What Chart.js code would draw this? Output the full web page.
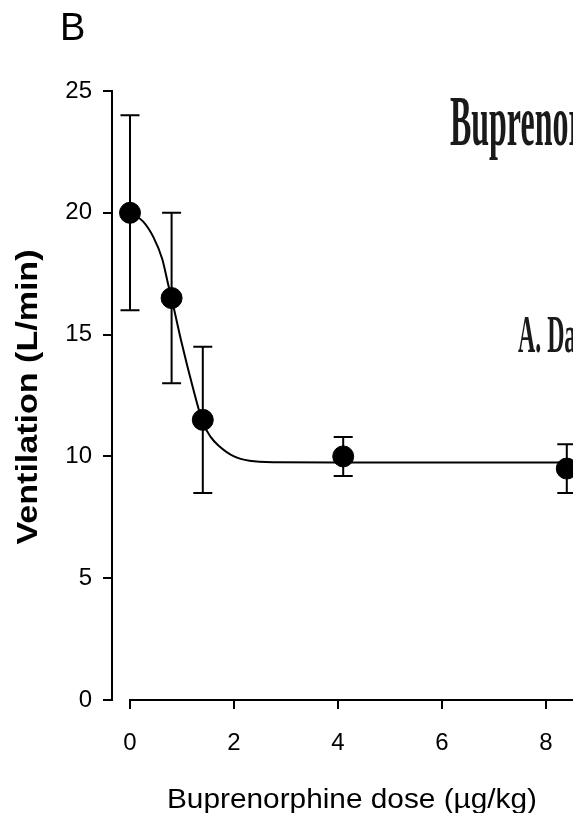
<!DOCTYPE html>
<html>
<head>
<meta charset="utf-8">
<script src="https://cdn.jsdelivr.net/npm/chart.js@4"></script>
<style>
  html, body { margin: 0; padding: 0; background: #fff; }
  canvas { display: block; }
</style>
</head>
<body>
<canvas id="ventilation-chart" width="573" height="813"></canvas>
<script>
// measured doses (ug/kg) and ventilation (L/min) with error bar ends
const doses = [0, 0.8, 1.4, 4.1, 8.4];
const ventilation = [20, 16.5, 11.5, 10, 9.5];
const errLow = [16, 13, 8.5, 9.2, 8.5];
const errHigh = [24, 20, 14.5, 10.8, 10.5];

// fitted curve
const fitDoses = [0, 0.25, 0.45, 0.62, 0.73, 0.82, 1.0, 1.2, 1.4, 1.55, 1.7, 2.0, 2.3, 2.8, 4, 8.6];
const fitVentilation = [20, 19.65, 19.0, 18.1, 17.1, 16.3, 14.6, 12.9, 11.4, 10.8, 10.45, 10.0, 9.82, 9.76, 9.75, 9.75];

const xTicks = [0, 2, 4, 6, 8];
const yTicks = [0, 5, 10, 15, 20, 25];

const SANS = "'Liberation Sans', Arial, sans-serif";
const SERIF = "'Liberation Serif', 'Times New Roman', serif";

// INFO error bars go under the points
const errorBars = {
  id: 'errorBars',
  beforeDatasetsDraw(chart) {
    const { ctx, scales: { x, y } } = chart;
    ctx.save();
    ctx.strokeStyle = '#000';
    ctx.lineWidth = 2;
    doses.forEach((d, i) => {
      const px = x.getPixelForValue(d);
      const top = y.getPixelForValue(errHigh[i]);
      const bot = y.getPixelForValue(errLow[i]);
      ctx.beginPath();
      ctx.moveTo(px, top); ctx.lineTo(px, bot);
      ctx.moveTo(px - 9.5, top); ctx.lineTo(px + 9.5, top);
      ctx.moveTo(px - 9.5, bot); ctx.lineTo(px + 9.5, bot);
      ctx.stroke();
    });
    ctx.restore();
  }
};

function fitText(ctx, text, x, y, width) {
  const w = ctx.measureText(text).width;
  ctx.save();
  ctx.translate(x, y);
  ctx.scale(width / w, 1);
  ctx.fillText(text, 0, 0);
  ctx.restore();
}

const decorations = {
  id: 'decorations',
  afterDraw(chart) {
    const { ctx, chartArea, scales: { x } } = chart;
    ctx.save();
    // detached x axis line, starting at dose 0
    ctx.strokeStyle = '#000';
    ctx.lineWidth = 2;
    ctx.beginPath();
    ctx.moveTo(x.getPixelForValue(0) - 1, chartArea.bottom);
    ctx.lineTo(chartArea.right, chartArea.bottom);
    ctx.stroke();

    ctx.fillStyle = '#000';
    ctx.textBaseline = 'alphabetic';

    ctx.textAlign = 'left';
    ctx.font = `38px ${SANS}`;
    ctx.fillText('B', 60, 40);

    ctx.textAlign = 'center';
    ctx.font = `28px ${SANS}`;
    fitText(ctx, 'Buprenorphine dose (\u00b5g/kg)', 352, 808, 370);

    ctx.save();
    ctx.translate(37, 397);
    ctx.rotate(-Math.PI / 2);
    ctx.font = `bold 29px ${SANS}`;
    fitText(ctx, 'Ventilation (L/min)', 0, 0, 295);
    ctx.restore();

    // leftover title text from the neighbouring panel
    ctx.textAlign = 'left';
    ctx.fillStyle = '#1a1a1a';
    ctx.font = `bold 71px ${SERIF}`;
    ctx.save();
    ctx.translate(450, 145);
    ctx.scale(0.45, 1);
    ctx.fillText('Buprenorphine', 0, 0);
    ctx.restore();

    ctx.font = `bold 53px ${SERIF}`;
    ctx.save();
    ctx.translate(518, 352);
    ctx.scale(0.45, 1);
    ctx.fillText('A. Dahan', 0, 0);
    ctx.restore();

    ctx.restore();
  }
};

const ctx = document.getElementById('ventilation-chart');

new Chart(ctx, {
  data: {
    datasets: [{
      type: 'line',
      data: fitDoses.map((d, i) => ({ x: d, y: fitVentilation[i] })),
      borderColor: '#000',
      borderWidth: 2,
      pointRadius: 0,
      cubicInterpolationMode: 'monotone',
      fill: false,
      clip: false
    }, {
      type: 'scatter',
      data: doses.map((d, i) => ({ x: d, y: ventilation[i] })),
      backgroundColor: '#000',
      borderColor: '#000',
      pointRadius: 10.5,
      pointHoverRadius: 10.5,
      clip: false
    }]
  },
  options: {
    responsive: false,
    animation: false,
    events: [],
    layout: { autoPadding: false, padding: { top: 91, right: 0, left: 0, bottom: 0 } },
    plugins: { legend: { display: false }, tooltip: { enabled: false } },
    scales: {
      x: {
        type: 'linear',
        min: -18 / 52,
        max: 443 / 52,
        afterBuildTicks: (scale) => { scale.ticks = xTicks.map(v => ({ value: v })); },
        afterFit: (scale) => {
          scale.height = 113;
          scale.paddingLeft = 0;
          scale.paddingRight = 0;
        },
        border: { display: false },
        grid: { drawOnChartArea: false, drawTicks: true, tickLength: 9, color: '#000', lineWidth: 2 },
        ticks: { color: '#000', font: { family: SANS, size: 24 }, padding: 20, maxRotation: 0 }
      },
      y: {
        type: 'linear',
        min: 0,
        max: 25,
        afterBuildTicks: (scale) => { scale.ticks = yTicks.map(v => ({ value: v })); },
        afterFit: (scale) => { scale.width = 112; },
        border: { display: true, color: '#000', width: 2 },
        grid: { drawOnChartArea: false, drawTicks: true, tickLength: 9, color: '#000', lineWidth: 2 },
        ticks: { color: '#000', font: { family: SANS, size: 24 }, padding: 11 }
      }
    }
  },
  plugins: [errorBars, decorations]
});
</script>
</body>
</html>
